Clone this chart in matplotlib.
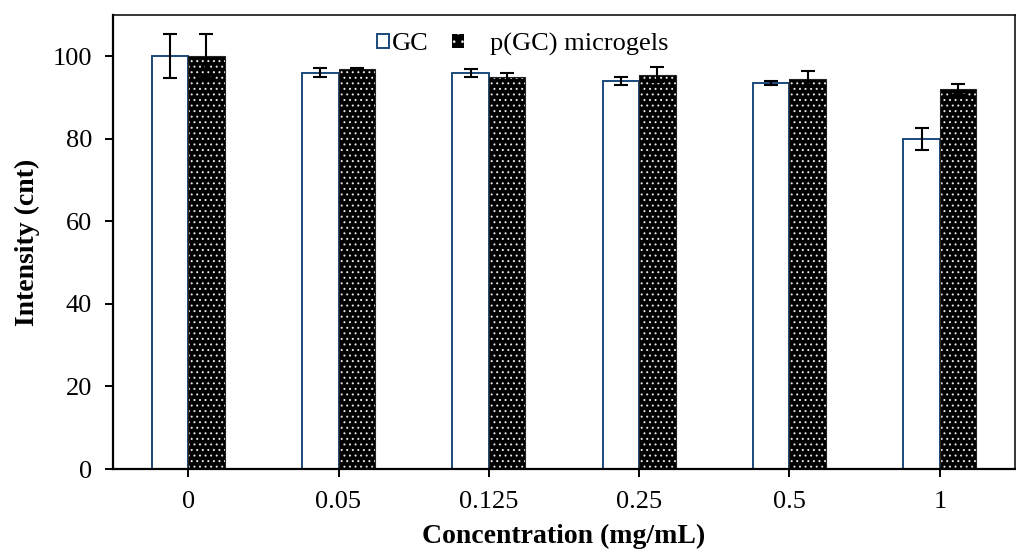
#!/usr/bin/env python3
import numpy as np
import matplotlib
matplotlib.use("Agg")
import matplotlib.pyplot as plt
from matplotlib.patches import Patch

# ============================================================================
# Data
# ============================================================================
concentrations = ["0", "0.05", "0.125", "0.25", "0.5", "1"]

gc_intensity = [100.0, 96.0, 95.9, 94.0, 93.6, 80.0]
gc_err = [5.3, 1.1, 1.0, 1.0, 0.5, 2.6]

pgc_intensity = [100.0, 96.9, 95.0, 95.5, 94.5, 92.0]
pgc_err = [5.3, 0.3, 0.9, 1.8, 1.9, 1.4]

# ============================================================================
# Style
# ============================================================================
plt.rcParams['font.family'] = ['Liberation Serif', 'DejaVu Serif']
plt.rcParams['font.size'] = 19
plt.rcParams['hatch.linewidth'] = 0.7

gc_edge = '#1c4a7a'
bar_w = 0.243

fig = plt.figure(figsize=(10.16, 5.54), dpi=100)
ax = fig.add_axes([113 / 1016, 85 / 554, 902 / 1016, 454 / 554])

x = np.arange(len(concentrations))

# GC: white bars with blue outline
ax.bar(x - bar_w / 2, gc_intensity, width=bar_w, facecolor='white',
       edgecolor=gc_edge, linewidth=1.4, zorder=2)
ax.errorbar(x - bar_w / 2, gc_intensity, yerr=gc_err, fmt='none',
            ecolor='black', elinewidth=1.5, capsize=5, capthick=1.5, zorder=3)

# p(GC) microgels: black bars with white dots
ax.bar(x + bar_w / 2, pgc_intensity, width=bar_w, facecolor='black',
       edgecolor='#e8e8e8', linewidth=0, hatch='...', zorder=2)
ax.bar(x + bar_w / 2, pgc_intensity, width=bar_w, fill=False,
       edgecolor='#222222', linewidth=0.8, zorder=2)
ax.errorbar(x + bar_w / 2, pgc_intensity, yerr=pgc_err, fmt='none',
            ecolor='black', elinewidth=1.5, capsize=5, capthick=1.5, zorder=3)

# ============================================================================
# Axes formatting
# ============================================================================
ax.set_xlim(-0.5, len(concentrations) - 0.5)
ax.set_ylim(0, 110)
ax.set_xticks(x)
ax.set_xticklabels(concentrations)
ax.set_yticks(np.arange(0, 101, 20))

ax.tick_params(axis='y', direction='out', length=6, width=1.4, pad=9)
ax.tick_params(axis='x', direction='out', length=6, width=1.4, pad=10)

for side in ['left', 'bottom']:
    ax.spines[side].set_linewidth(1.6)
for side in ['top', 'right']:
    ax.spines[side].set_linewidth(1.1)

ax.set_xlabel("Concentration (mg/mL)", fontweight='bold', fontsize=20, labelpad=8)
ax.set_ylabel("Intensity (cnt)", fontweight='bold', fontsize=20, labelpad=9)

# ============================================================================
# Legend (two pieces, placed like the original)
# ============================================================================
h_gc = Patch(facecolor='white', edgecolor=gc_edge, linewidth=1.4)
h_pgc = Patch(facecolor='black', edgecolor='#e8e8e8', linewidth=0, hatch='..')

leg_kw = dict(frameon=False, loc='center left', borderpad=0, borderaxespad=0,
              handlelength=0.45, handleheight=0.45, fontsize=19)
leg1 = ax.legend([h_gc], ["GC"], bbox_to_anchor=(377 / 1016, 1 - 44 / 554),
                 bbox_transform=fig.transFigure, handletextpad=0.1, **leg_kw)
ax.add_artist(leg1)
ax.legend([h_pgc], ["p(GC) microgels"], bbox_to_anchor=(452 / 1016, 1 - 44 / 554),
          bbox_transform=fig.transFigure, handletextpad=1.0, **leg_kw)

fig.savefig("out.png", dpi=100)
